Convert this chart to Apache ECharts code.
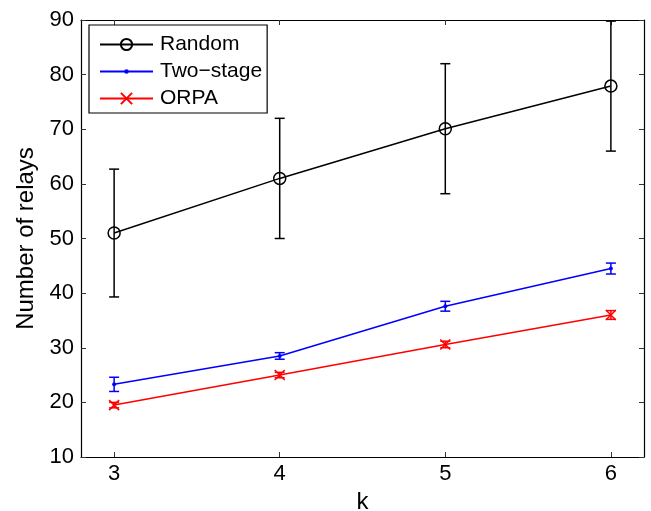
<!DOCTYPE html>
<html>
<head>
<meta charset="utf-8">
<script src="https://cdn.jsdelivr.net/npm/echarts@6/dist/echarts.min.js"></script>
<style>html,body{margin:0;padding:0;background:#fff}#c{width:651px;height:511px}</style>
</head>
<body>
<div id="c"></div>
<script>
const kValues = [3, 4, 5, 6];
const xTicks = [3, 4, 5, 6];
const randomMean = [51.0, 61.0, 70.1, 77.9];
const randomErr = [11.7, 11.0, 11.9, 11.9];
const twoStageMean = [23.3, 28.5, 37.6, 44.5];
const twoStageErr = [1.3, 0.6, 0.9, 1.0];
const orpaMean = [19.5, 25.0, 30.6, 36.0];
const orpaErr = [0.5, 0.5, 0.6, 0.8];
const seriesNames = ['Random', 'Two\u2212stage', 'ORPA'];
const colors = ['#000000', '#0000ff', '#ff0000'];

const FONT = 'Liberation Sans, Arial, Helvetica, sans-serif';
const chart = echarts.init(document.getElementById('c'));

function lineData(mean) { return kValues.map((k, i) => [k, mean[i]]); }
function errData(mean, err) { return kValues.map((k, i) => [k, mean[i] - err[i], mean[i] + err[i]]); }

function errSeries(mean, err, color) {
  return {
    type: 'custom',
    silent: true,
    z: 2,
    data: errData(mean, err),
    encode: { x: 0, y: [1, 2] },
    renderItem: function (params, api) {
      const x = api.value(0);
      const lo = api.coord([x, api.value(1)]);
      const hi = api.coord([x, api.value(2)]);
      const w = 5;
      const st = { stroke: color, lineWidth: 1.5, fill: null };
      return {
        type: 'group',
        children: [
          { type: 'line', shape: { x1: lo[0], y1: lo[1], x2: hi[0], y2: hi[1] }, style: st },
          { type: 'line', shape: { x1: hi[0] - w, y1: hi[1], x2: hi[0] + w, y2: hi[1] }, style: st },
          { type: 'line', shape: { x1: lo[0] - w, y1: lo[1], x2: lo[0] + w, y2: lo[1] }, style: st }
        ]
      };
    }
  };
}

// small dot inside a 10x10 box (corners are invisible extents)
const DOT = 'path://M0,0L0,0M10,0L10,0M0,10L0,10M10,10L10,10M3,5a2,2 0 1,0 4,0a2,2 0 1,0 -4,0Z';
const XMARK = 'path://M0,0L10,10M10,0L0,10';

const axisCommon = {
  axisLine: { show: true, onZero: false, lineStyle: { color: '#000', width: 1.2 } },
  axisTick: { show: true, inside: true, length: 5, lineStyle: { color: '#333', width: 1 } },
  splitLine: { show: false }
};

chart.setOption({
  animation: false,
  backgroundColor: '#fff',
  grid: { left: 81, top: 20, right: 7, bottom: 54, containLabel: false, outerBoundsMode: 'none' },
  legend: {
    data: seriesNames,
    orient: 'vertical',
    left: 89,
    top: 25,
    padding: [9, 5, 4, 10],
    itemWidth: 53,
    itemHeight: 14,
    itemGap: 6,
    borderColor: '#000',
    borderWidth: 1.2,
    borderRadius: 0,
    backgroundColor: '#fff',
    textStyle: { fontFamily: FONT, fontSize: 21, lineHeight: 21, color: '#000', padding: [0, 0, 0, 2] }
  },
  xAxis: [
    Object.assign({}, axisCommon, {
      type: 'value', min: 2.8, max: 6.2, position: 'bottom',
      axisTick: Object.assign({}, axisCommon.axisTick, { customValues: xTicks }),
      axisLabel: { customValues: xTicks, fontFamily: FONT, fontSize: 22, color: '#000', margin: 6 },
      name: 'k', nameLocation: 'middle', nameGap: 31,
      nameTextStyle: { fontFamily: FONT, fontSize: 24, color: '#000' }
    }),
    Object.assign({}, axisCommon, {
      type: 'value', min: 2.8, max: 6.2, position: 'top',
      axisTick: Object.assign({}, axisCommon.axisTick, { customValues: xTicks }),
      axisLabel: { show: false }
    })
  ],
  yAxis: [
    Object.assign({}, axisCommon, {
      type: 'value', min: 10, max: 90, interval: 10, position: 'left',
      axisLabel: { fontFamily: FONT, fontSize: 22, color: '#000', margin: 7 },
      name: 'Number of relays', nameLocation: 'middle', nameGap: 42,
      nameTextStyle: { fontFamily: FONT, fontSize: 24, color: '#000' }
    }),
    Object.assign({}, axisCommon, {
      type: 'value', min: 10, max: 90, interval: 10, position: 'right',
      axisLabel: { show: false }
    })
  ],
  series: [
    errSeries(randomMean, randomErr, colors[0]),
    errSeries(twoStageMean, twoStageErr, colors[1]),
    errSeries(orpaMean, orpaErr, colors[2]),
    {
      name: seriesNames[0], type: 'line', z: 3, data: lineData(randomMean),
      symbol: 'circle', symbolSize: 12,
      lineStyle: { color: colors[0], width: 1.5 },
      itemStyle: { color: 'rgba(255,255,255,0)', borderColor: colors[0], borderWidth: 1.5 }
    },
    {
      name: seriesNames[1], type: 'line', z: 3, data: lineData(twoStageMean),
      symbol: DOT, symbolSize: 10, symbolKeepAspect: true,
      lineStyle: { color: colors[1], width: 1.5 },
      itemStyle: { color: colors[1], borderWidth: 0 }
    },
    {
      name: seriesNames[2], type: 'line', z: 3, data: lineData(orpaMean),
      symbol: XMARK, symbolSize: 10, symbolKeepAspect: true,
      lineStyle: { color: colors[2], width: 1.5 },
      itemStyle: { color: 'rgba(255,0,0,0)', borderColor: colors[2], borderWidth: 1.5 }
    }
  ]
});
</script>
</body>
</html>
